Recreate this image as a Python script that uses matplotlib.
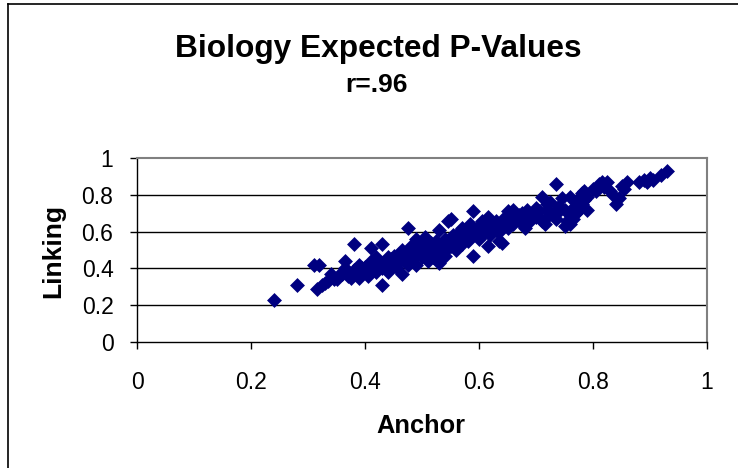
import matplotlib
matplotlib.use("Agg")
import matplotlib.pyplot as plt
from matplotlib.lines import Line2D

plt.rcParams['font.family'] = ['Liberation Sans', 'DejaVu Sans']

title = "Biology Expected P-Values"
subtitle = "r=.96"
x_label = "Anchor"
y_label = "Linking"
x_ticks = [0, 0.2, 0.4, 0.6, 0.8, 1]
y_ticks = [0, 0.2, 0.4, 0.6, 0.8, 1]
x_tick_labels = ["0", "0.2", "0.4", "0.6", "0.8", "1"]
y_tick_labels = ["0", "0.2", "0.4", "0.6", "0.8", "1"]

anchor = [0.24, 0.28, 0.31, 0.32, 0.315, 0.325, 0.33, 0.335, 0.34, 0.345, 0.35, 0.355, 0.36, 0.365, 0.365,
          0.37, 0.375, 0.38, 0.38, 0.385, 0.39, 0.39, 0.395, 0.40, 0.405, 0.41, 0.41, 0.415, 0.42, 0.42,
          0.425, 0.43, 0.43, 0.43, 0.435, 0.44, 0.44, 0.445, 0.45, 0.45, 0.455, 0.46, 0.46, 0.465, 0.465,
          0.47, 0.475, 0.475, 0.48, 0.48, 0.485, 0.49, 0.49, 0.49, 0.495, 0.50, 0.50, 0.505, 0.505, 0.51,
          0.51, 0.515, 0.52, 0.52, 0.525, 0.53, 0.53, 0.53, 0.535, 0.54, 0.54, 0.545, 0.545, 0.55, 0.55,
          0.555, 0.56, 0.56, 0.565, 0.57, 0.57, 0.575, 0.58, 0.58, 0.585, 0.59, 0.59, 0.59, 0.595, 0.60,
          0.60, 0.605, 0.61, 0.615, 0.615, 0.62, 0.62, 0.625, 0.63, 0.635, 0.635, 0.64, 0.64, 0.645, 0.65,
          0.65, 0.655, 0.66, 0.66, 0.665, 0.67, 0.675, 0.68, 0.68, 0.685, 0.69, 0.695, 0.70, 0.70, 0.705,
          0.71, 0.71, 0.715, 0.72, 0.72, 0.725, 0.73, 0.735, 0.735, 0.74, 0.745, 0.75, 0.75, 0.755, 0.76,
          0.76, 0.765, 0.77, 0.775, 0.78, 0.785, 0.79, 0.79, 0.80, 0.805, 0.81, 0.815, 0.82, 0.825, 0.83,
          0.835, 0.84, 0.845, 0.85, 0.855, 0.86, 0.88, 0.89, 0.895, 0.90, 0.905, 0.92, 0.93,
          0.76, 0.765, 0.77, 0.775, 0.78, 0.785, 0.36, 0.40, 0.44, 0.47, 0.50, 0.52, 0.55, 0.57, 0.61,
          0.63, 0.67, 0.69, 0.345, 0.37, 0.42, 0.46, 0.48, 0.53, 0.56, 0.58, 0.62, 0.66, 0.72, 0.74]
linking = [0.23, 0.31, 0.42, 0.42, 0.29, 0.31, 0.32, 0.33, 0.37, 0.35, 0.34, 0.36, 0.38, 0.44, 0.40,
           0.36, 0.35, 0.39, 0.53, 0.37, 0.35, 0.42, 0.40, 0.38, 0.36, 0.51, 0.44, 0.40, 0.38, 0.46,
           0.42, 0.53, 0.31, 0.40, 0.44, 0.42, 0.38, 0.45, 0.43, 0.47, 0.41, 0.48, 0.44, 0.37, 0.50,
           0.46, 0.62, 0.42, 0.49, 0.52, 0.45, 0.47, 0.42, 0.56, 0.50, 0.53, 0.46, 0.57, 0.49, 0.51,
           0.44, 0.54, 0.48, 0.52, 0.55, 0.43, 0.61, 0.50, 0.53, 0.56, 0.47, 0.66, 0.51, 0.67, 0.54,
           0.58, 0.50, 0.56, 0.60, 0.53, 0.62, 0.57, 0.55, 0.60, 0.64, 0.71, 0.47, 0.58, 0.61, 0.63,
           0.56, 0.66, 0.60, 0.52, 0.68, 0.58, 0.64, 0.62, 0.66, 0.55, 0.60, 0.54, 0.64, 0.68, 0.71,
           0.62, 0.66, 0.72, 0.64, 0.68, 0.66, 0.70, 0.62, 0.68, 0.72, 0.66, 0.70, 0.73, 0.68, 0.71,
           0.79, 0.66, 0.64, 0.72, 0.68, 0.76, 0.70, 0.86, 0.67, 0.74, 0.78, 0.63, 0.72, 0.66, 0.79,
           0.69, 0.73, 0.76, 0.78, 0.81, 0.82, 0.79, 0.72, 0.83, 0.82, 0.86, 0.87, 0.84, 0.87, 0.82,
           0.80, 0.75, 0.78, 0.85, 0.83, 0.87, 0.87, 0.88, 0.87, 0.89, 0.88, 0.91, 0.93,
           0.64, 0.67, 0.70, 0.72, 0.75, 0.77, 0.37, 0.41, 0.46, 0.44, 0.51, 0.46, 0.52, 0.58, 0.63,
           0.61, 0.69, 0.68, 0.34, 0.38, 0.43, 0.46, 0.47, 0.48, 0.53, 0.57, 0.61, 0.70, 0.75, 0.71]

W, H = 738, 468
fig = plt.figure(figsize=(W / 100, H / 100), dpi=100)

def fx(px):
    return px / W

def fy(py):
    return 1 - py / H

ax = fig.add_axes([fx(137), fy(342), fx(707) - fx(137), fy(158) - fy(342)])
ax.scatter(anchor, linking, marker='D', s=7.6 ** 2, color='#000080', linewidths=0, zorder=3, clip_on=False)
ax.set_xlim(0, 1)
ax.set_ylim(0, 1)
ax.set_xticks(x_ticks)
ax.set_xticklabels(x_tick_labels, fontsize=16.5)
ax.set_yticks(y_ticks)
ax.set_yticklabels(y_tick_labels, fontsize=16.5)
for yv in y_ticks[1:-1]:
    ax.axhline(yv, color='black', linewidth=1.0, zorder=1)
ax.tick_params(axis='x', direction='out', length=5, width=1, pad=16, colors='black')
ax.tick_params(axis='y', direction='out', length=5, width=1, pad=12, colors='black')
ax.spines['left'].set_color('black')
ax.spines['bottom'].set_color('black')
ax.spines['left'].set_linewidth(1.0)
ax.spines['bottom'].set_linewidth(1.0)
ax.spines['top'].set_color('#808080')
ax.spines['right'].set_color('#808080')
ax.spines['top'].set_linewidth(1.5)
ax.spines['right'].set_linewidth(1.5)

fig.text(fx(378), fy(57), title, ha='center', va='baseline', fontsize=22.8, fontweight='bold')
fig.text(fx(377), fy(92), subtitle, ha='center', va='baseline', fontsize=19, fontweight='bold')
fig.text(fx(421), fy(426), x_label, ha='center', va='center', fontsize=18.3, fontweight='bold')
fig.text(fx(53), fy(251), y_label, ha='center', va='center', fontsize=19, fontweight='bold', rotation=90)

fig.add_artist(Line2D([fx(8), fx(8)], [fy(4), 0], transform=fig.transFigure, color='black', linewidth=1.2))
fig.add_artist(Line2D([fx(8), 1], [fy(4), fy(4)], transform=fig.transFigure, color='black', linewidth=1.2))

fig.savefig("out.png", dpi=100)
